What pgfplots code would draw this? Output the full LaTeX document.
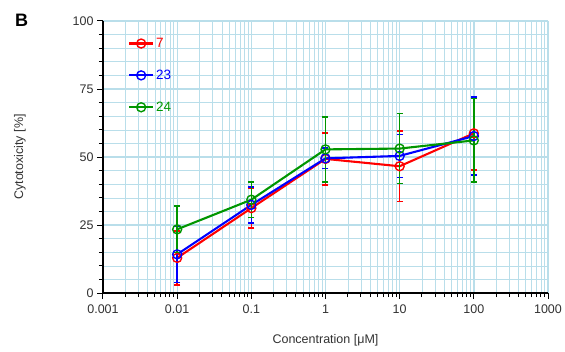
\documentclass[border=0pt]{standalone}
\usepackage{pgfplots}
\pgfplotsset{compat=1.18}
\usepackage{fontspec}
\setmainfont{Liberation Sans}
\definecolor{gridblue}{RGB}{185,222,234}
\definecolor{cred}{RGB}{255,0,0}
\definecolor{cblue}{RGB}{0,0,255}
\definecolor{cgreen}{RGB}{0,150,0}
\definecolor{txt}{RGB}{50,50,50}
\begin{document}
\begin{tikzpicture}
\begin{axis}[
  scale only axis, width=445bp, height=272bp,
  xmode=log, xmin=0.001, xmax=1000, ymin=0, ymax=100,
  xtick={0.001,0.01,0.1,1,10,100,1000},
  xticklabels={0.001,0.01,0.1,1,10,100,1000},
  ytick={0,25,50,75,100}, minor y tick num=4,
  axis x line*=bottom, axis y line*=left,
  axis line style={black, line width=1.3pt},
  tick align=outside, tick style={black, line width=1pt},
  major tick length=6bp, minor tick length=4bp,
  grid=both,
  major grid style={gridblue, line width=1.1pt},
  minor grid style={gridblue, line width=0.6pt},
  /pgf/number format/assume math mode=true,
  tick label style={font=\fontsize{12.5bp}{14bp}\selectfont, text=txt},
  xticklabel style={yshift=-2bp},
  label style={font=\fontsize{12.5bp}{14bp}\selectfont, text=txt},
  xlabel={Concentration [μM]}, ylabel={Cytotoxicity [\%]},
  xlabel style={at={(axis description cs:0.5,-0.1728)}, anchor=center},
  ylabel style={at={(axis description cs:-0.1865,0.5)}, anchor=center},
  legend style={draw=none, fill=none, at={(rel axis cs:0.056,0.945)}, anchor=north west,
    font=\fontsize{13.5bp}{15bp}\selectfont, row sep=17bp, inner sep=0pt},
  legend cell align=left,
  legend image code/.code={
    \draw[mark repeat=2, mark phase=2, #1] plot coordinates {(0bp,0bp)(12bp,0bp)(24bp,0bp)};},
  every axis plot/.append style={line width=2.1pt, mark=o, mark size=4.5bp,
    mark options={fill=white, line width=1.4pt}},
  clip=false,
]
\addplot[color=cred, error bars/.cd, y dir=both, y explicit, error mark options={rotate=90, mark size=3bp, line width=1.6pt, draw=cred}, error bar style={line width=1.6pt, draw=cred}] coordinates {
 (0.01,12.9) +- (0,10.0)
 (0.1,31.2) +- (0,7.4)
 (1,49.3) +- (0,9.5)
 (10,46.6) +- (0,13.0)
 (100,58.7) +- (0,13.5)
};
\addlegendentry{\textcolor{cred}{7}}
\addplot[color=cblue, error bars/.cd, y dir=both, y explicit, error mark options={rotate=90, mark size=3bp, line width=1.6pt, draw=cblue}, error bar style={line width=1.6pt, draw=cblue}] coordinates {
 (0.01,14.2) +- (0,10.3)
 (0.1,32.4) +- (0,6.6)
 (1,49.5) +- (0,3.8)
 (10,50.4) +- (0,7.9)
 (100,57.7) +- (0,14.3)
};
\addlegendentry{\textcolor{cblue}{23}}
\addplot[color=cgreen, error bars/.cd, y dir=both, y explicit, error mark options={rotate=90, mark size=3bp, line width=1.6pt, draw=cgreen}, error bar style={line width=1.6pt, draw=cgreen}] coordinates {
 (0.01,23.4) +- (0,8.5)
 (0.1,34.3) +- (0,6.6)
 (1,52.8) +- (0,12.0)
 (10,53.1) +- (0,12.9)
 (100,56.1) +- (0,15.4)
};
\addlegendentry{\textcolor{cgreen}{24}}
\end{axis}
\node[font=\bfseries\fontsize{18bp}{20bp}\selectfont, anchor=north west, inner sep=0pt] at (-88bp,279bp) {B};
\pgfresetboundingbox
\path (-103bp,-59bp) rectangle (462bp,293bp);
\end{tikzpicture}
\end{document}
